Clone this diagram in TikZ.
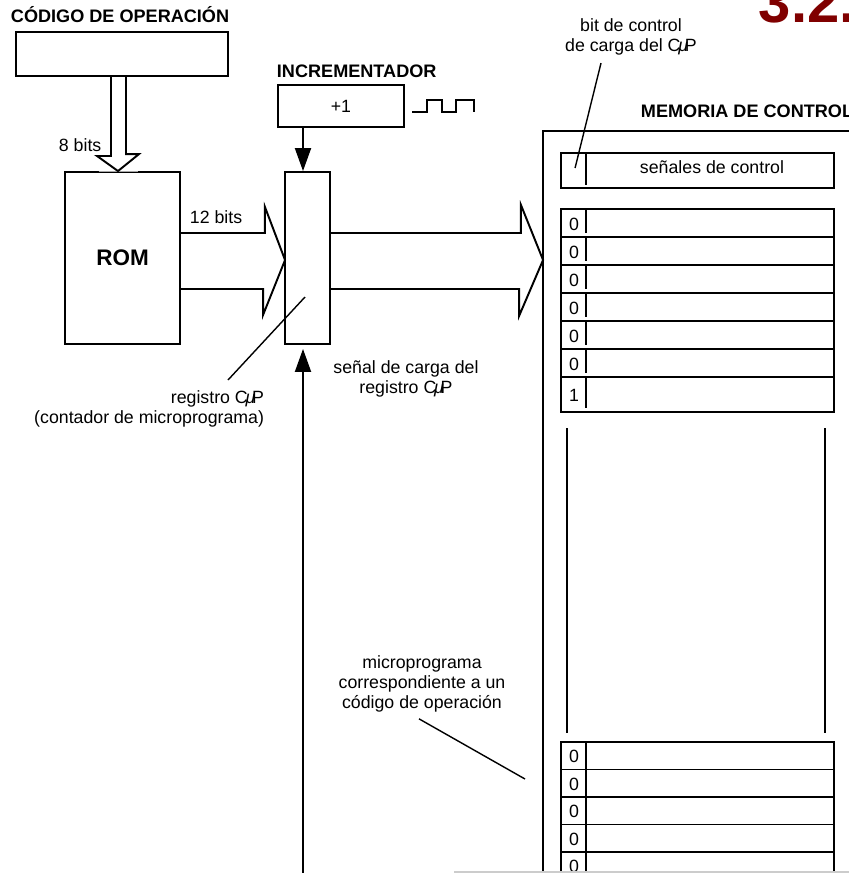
\documentclass[tikz,border=0pt]{standalone}
\usepackage{fontspec}
\setmainfont{Liberation Sans}
\usetikzlibrary{arrows.meta,positioning,calc}
\definecolor{titlered}{RGB}{128,0,0}
\newcommand{\cmuP}{C\kern-0.12em{\itshape μ}\kern-0.18em P}

\begin{document}
\begin{tikzpicture}[x=0.02cm, y=-0.02cm, line width=1.1pt,
        every node/.style={inner sep=0pt},
        lbl/.style={font=\fontsize{10.1}{11.2}\selectfont, align=center},
        ttl/.style={font=\fontsize{10.3}{12}\selectfont\bfseries},
        box/.style={draw, line width=1.1pt},
        row/.style={draw, minimum width=5.46cm},
        thinline/.style={line width=0.8pt},
        tip/.style={-{Triangle[length=0.46cm,width=0.32cm]}}]
        \useasboundingbox (0,0) rectangle (849,873);
        \clip (0,0) rectangle (849,873);
        % opcode and ROM
        \node[ttl, anchor=base west] (opcodet) at (10,22) {CÓDIGO DE OPERACIÓN};
        \node[box, minimum width=4.24cm, minimum height=0.88cm] (opcode) at (122,54) {};
        \node[box, minimum width=2.3cm, minimum height=3.44cm, font=\fontsize{12.8}{14}\selectfont\bfseries] (rom) at (122.5,258) {ROM};
        \draw[white, line width=1.3pt] ($(rom.north)+(-24,0)$) -- ($(rom.north)+(15,0)$);
        \draw[black!35, line width=0.4pt] ($(rom.north)+(-24,0)$) -- ($(rom.north)+(15,0)$);
        \draw ($(opcode.south)+(-11,0)$) -- ++(0,79) -- ++(-14,0) -- ($(rom.north)+(-4.5,0)$) -- ++(21,-17) -- ++(-13,0) -- ($(opcode.south)+(4,0)$);
        \node[lbl, anchor=base west] (bits8) at (58,151) {8 bits};
        % incrementer and register
        \node[ttl, anchor=base west] (inct) at (276,77) {INCREMENTADOR};
        \node[box, lbl, minimum width=2.52cm, minimum height=0.84cm] (inc) at (341,106) {+1};
        \draw (412,112) -| (427,100) -| (442,112) -| (456,100) -| (474,112);
        \node[box, minimum width=0.9cm, minimum height=3.44cm] (upc) at (307.5,258) {};
        \coordinate (incx) at (303,0);
        \draw[tip] (inc.south -| incx) -- (upc.north -| incx);
        \draw ($(rom.east)+(0,-25)$) -- ++(84,0) -- ++(0,-26) -- ($(upc.west)+(1,2)$) -- ++(-22,55) -- ++(0,-26) -- ($(rom.east)+(0,31)$);
        \node[lbl, anchor=base west] (bits12) at (189,223) {12 bits};
        \coordinate (loadin) at (303,880);
        \draw[tip, shorten >=0.08cm] (loadin) -- (upc.south -| loadin);
        \node[lbl] (loadl) at (406,379) {señal de carga del\\registro \cmuP};
        \node[lbl, align=right, anchor=north east] (regl) at (265,390) {registro \cmuP\\(contador de microprograma)};
        \draw[thinline] ($(regl.north east)+(-37,-10)$) -- ($(upc.center)+(-2.5,39)$);
        % control memory
        \node[draw, minimum width=7.14cm, minimum height=15.38cm] (mem) at (721.5,515.5) {};
        \node[ttl, anchor=base west] (memt) at (640,117) {MEMORIA DE CONTROL};
        \draw ($(upc.east)+(0,-25)$) -- ++(190,0) -- ++(0,-28) -- ($(mem.west |- upc.east)+(1,2)$) -- ++(-24,56) -- ++(0,-27) -- ($(upc.east)+(0,31)$);
        \node[row, minimum height=0.7cm] (ctrl) at (697.5,170.5) {};
        \draw (ctrl.north west) ++(26,0) -- ++(0,33);
        \node[lbl, anchor=base] (ctrlt) at (712,173) {señales de control};
        \node[lbl] (bitl) at (631,37) {bit de control\\de carga del \cmuP};
        \draw[thinline] (bitl.south) ++(-30,7) -- ($(ctrl.west)+(15,-2.5)$);
        \foreach \t/\h/\b [count=\i] in {209/28/0,237/28/0,265/28/0,293/28/0,321/28/0,349/28/0,377/35/1} {
            \node[row, minimum height=\h*0.02cm] (w\i) at (697.5,\t+\h/2) {};
            \node[lbl] (wb\i) at ($(w\i.west)+(14,1)$) {\b};
            \draw (w\i.north west) ++(26,0) -- ++(0,\h-3);
        }
        \draw[thinline] (567,428) -- (567,733);
        \draw[thinline] (825,428) -- (825,733);
        \foreach \t [count=\i] in {742,769.5,797,824.5,852} {
            \node[row, minimum height=0.55cm] (v\i) at (697.5,\t+13.75) {};
            \node[lbl] (vb\i) at ($(v\i.west)+(14,1)$) {0};
            \draw (v\i.north west) ++(26,0) -- ++(0,27.5);
        }
        \node[lbl, anchor=north] (mpl) at (422,655) {microprograma\\correspondiente a un\\código de operación};
        \coordinate (mptip) at (525,779);
        \draw[thinline] ($(mpl.south)+(-3,6)$) -- (mptip);
        % section number and edge
        \node[anchor=base west, text=titlered, font=\fontsize{33}{36}\selectfont\bfseries] (secnum) at (758,22) {3.2.};
        \draw[black!20, line width=1.5pt] (454,872) -- (849,872);
    \end{tikzpicture}
\end{document}
